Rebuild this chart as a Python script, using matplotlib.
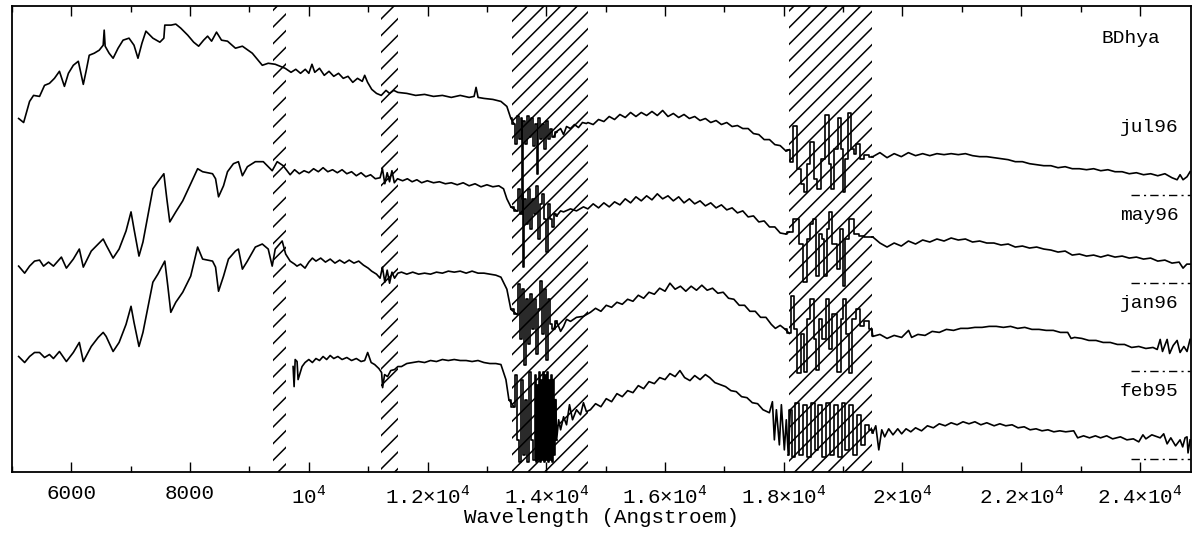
import matplotlib.pyplot as plt

plt.rcParams['font.family'] = ['Liberation Mono', 'DejaVu Sans']
plt.rcParams['mathtext.fontset'] = 'custom'
plt.rcParams['mathtext.rm'] = 'Liberation Mono'
plt.rcParams['hatch.linewidth'] = 1.1

# spectra as (wavelength [Angstroem], flux above the zero line of each spectrum)
jul96 = [(5112, 76), (5196, 72), (5296, 93), (5363, 99), (5464, 98), (5548, 109), (5631, 111),
         (5715, 116), (5799, 123), (5883, 108), (5950, 121), (6033, 129), (6117, 133), (6201, 110),
         (6251, 124), (6301, 139), (6385, 141), (6469, 144), (6536, 149), (6553, 164), (6569, 148),
         (6636, 141), (6703, 136), (6787, 146), (6871, 154), (6971, 156), (7055, 149), (7122, 136),
         (7189, 151), (7256, 163), (7373, 156), (7491, 152), (7558, 156), (7574, 169), (7680, 169),
         (7759, 170), (7842, 166), (7960, 159), (8060, 152), (8144, 148), (8228, 154), (8295, 158),
         (8362, 153), (8445, 162), (8529, 154), (8630, 153), (8764, 146), (8881, 148), (9048, 141),
         (9216, 129), (9316, 131), (9434, 130), (9601, 126),
         (9700, 122), (9780, 125), (9860, 121), (9940, 125), (10000, 121), (10053, 130), (10100, 122),
         (10180, 126), (10260, 119), (10340, 123), (10420, 118), (10500, 121), (10580, 116),
         (10660, 118), (10740, 112), (10820, 116), (10900, 113), (10941, 119), (10990, 112),
         (11060, 105), (11140, 101), (11220, 99), (11300, 104), (11360, 101), (11430, 104),
         (11500, 102), (11650, 101), (11800, 99), (11950, 100), (12100, 98), (12250, 99), (12400, 97),
         (12550, 99), (12700, 97), (12784, 98), (12817, 107), (12851, 97), (12950, 96), (13100, 95),
         (13236, 93), (13336, 88), (13403, 76),
         (13454, 71), (13487, 51), (13521, 78), (13554, 56), (13588, 76), (13605, -4), (13621, 74),
         (13655, 51), (13688, 78), (13722, 58), (13755, 76), (13789, 49), (13822, 71), (13856, 21),
         (13873, 76), (13906, 56), (13940, 71), (13973, 46), (14007, 74), (14040, 56), (14074, 66),
         (14124, 58), (14174, 63), (14241, 66), (14291, 60), (14341, 68), (14408, 66), (14475, 70),
         (14542, 67), (14609, 72), (14676, 71),
         (14700, 72), (14790, 70), (14880, 75), (14970, 73), (15060, 78), (15150, 75), (15240, 80),
         (15330, 77), (15420, 82), (15510, 78), (15600, 82), (15690, 79), (15780, 83), (15870, 79),
         (15960, 84), (16050, 78), (16140, 81), (16230, 77), (16320, 80), (16410, 76), (16500, 78),
         (16590, 74), (16680, 76), (16770, 72), (16860, 74), (16950, 70), (17040, 72), (17130, 68),
         (17220, 69), (17310, 66), (17400, 66), (17490, 61), (17580, 60), (17670, 55), (17760, 55),
         (17850, 50), (17940, 49), (18030, 44), (18093, 45),
         (18110, 33), (18194, 69), (18261, 26), (18311, 11), (18361, 3), (18412, 31), (18479, 53),
         (18529, 16), (18596, 6), (18646, 36), (18730, 79), (18780, 31), (18814, 6), (18881, 46),
         (18948, 76), (18981, 46), (19015, 3), (19065, 36), (19115, 81), (19166, 46), (19199, 41),
         (19250, 51), (19316, 36), (19400, 40), (19484, 38),
         (19500, 38), (19620, 42), (19740, 37), (19860, 41), (19980, 38), (20100, 42), (20220, 39),
         (20340, 41), (20460, 39), (20580, 41), (20700, 40), (20820, 41), (20940, 40), (21060, 41),
         (21180, 39), (21300, 38), (21420, 38), (21540, 37), (21660, 36), (21780, 35), (21900, 33),
         (22020, 33), (22140, 31), (22260, 30), (22380, 29), (22500, 29), (22620, 27), (22740, 28),
         (22860, 26), (22980, 26), (23100, 25), (23220, 26), (23340, 24), (23460, 25), (23580, 23),
         (23700, 23), (23820, 21), (23940, 22), (24060, 20), (24180, 21), (24300, 19), (24420, 21),
         (24540, 17), (24626, 15), (24676, 20), (24726, 15), (24793, 18), (24844, 23)]

may96 = [(5112, 17), (5213, 10), (5296, 17), (5380, 22), (5464, 23), (5531, 17), (5615, 21),
         (5698, 17), (5832, 26), (5916, 15), (6033, 24), (6134, 34), (6201, 16), (6335, 32),
         (6452, 39), (6536, 44), (6586, 38), (6703, 25), (6804, 34), (6921, 52), (7005, 71),
         (7055, 54), (7139, 27), (7206, 41), (7373, 94), (7457, 101), (7558, 109), (7608, 84),
         (7658, 61), (7759, 71), (7876, 82), (8010, 99), (8127, 114), (8211, 111), (8378, 109),
         (8429, 104), (8479, 86), (8563, 97), (8630, 111), (8730, 119), (8814, 121), (8881, 107),
         (8965, 116), (9099, 121), (9233, 121), (9383, 112), (9467, 121), (9568, 117),
         (9620, 113), (9685, 108), (9760, 113), (9840, 109), (9920, 112), (10000, 110), (10080, 114),
         (10160, 111), (10240, 115), (10320, 111), (10400, 113), (10480, 110), (10560, 113),
         (10640, 109), (10720, 111), (10800, 107), (10880, 110), (10960, 106), (11040, 108),
         (11120, 104), (11200, 105), (11240, 114), (11280, 99), (11320, 110), (11360, 101),
         (11400, 112), (11440, 100), (11494, 104), (11580, 102), (11660, 104), (11740, 101),
         (11820, 103), (11900, 100), (11996, 102), (12100, 100), (12200, 101), (12300, 99),
         (12400, 100), (12500, 98), (12600, 100), (12700, 97), (12800, 99), (12900, 96), (13000, 98),
         (13100, 96), (13200, 97), (13280, 94), (13336, 84), (13403, 76),
         (13504, 72), (13537, 94), (13571, 69), (13605, 89), (13621, 16), (13638, 84), (13671, 59),
         (13705, 94), (13739, 54), (13772, 84), (13806, 69), (13839, 97), (13873, 44), (13906, 79),
         (13940, 89), (13973, 64), (14007, 31), (14040, 79), (14074, 64), (14107, 56), (14141, 69),
         (14174, 67), (14241, 72), (14291, 71), (14408, 74), (14509, 72), (14626, 76),
         (14700, 74), (14790, 79), (14880, 75), (14970, 80), (15060, 76), (15150, 81), (15240, 78),
         (15330, 84), (15420, 80), (15510, 86), (15600, 82), (15690, 87), (15780, 83), (15870, 89),
         (15960, 84), (16050, 87), (16140, 82), (16230, 86), (16320, 80), (16410, 84), (16500, 79),
         (16590, 82), (16680, 77), (16770, 80), (16860, 75), (16950, 78), (17040, 73), (17130, 75),
         (17220, 70), (17310, 72), (17400, 66), (17490, 67), (17580, 61), (17670, 62), (17760, 56),
         (17850, 56), (17940, 50), (18030, 49), (18093, 51),
         (18227, 64), (18294, 39), (18361, 1), (18412, 44), (18462, 59), (18512, 64), (18562, 7),
         (18613, 49), (18663, 44), (18696, 7), (18747, 54), (18780, 71), (18847, 39), (18931, 14),
         (18965, 54), (19015, -3), (19065, 44), (19149, 64), (19216, 49), (19316, 47), (19400, 46),
         (19484, 46),
         (19500, 46), (19620, 40), (19740, 36), (19860, 40), (19980, 37), (20100, 42), (20220, 39),
         (20340, 43), (20460, 41), (20580, 44), (20700, 42), (20820, 45), (20940, 43), (21060, 44),
         (21180, 41), (21300, 42), (21420, 40), (21540, 40), (21660, 38), (21780, 39), (21900, 36),
         (22020, 37), (22140, 35), (22260, 36), (22380, 34), (22500, 33), (22620, 31), (22740, 32),
         (22860, 28), (22980, 29), (23100, 27), (23220, 28), (23340, 26), (23460, 28), (23580, 26),
         (23700, 27), (23820, 25), (23940, 26), (24060, 24), (24180, 25), (24300, 22), (24420, 23),
         (24540, 20), (24660, 21), (24726, 15), (24790, 19), (24844, 19)]

jan96 = [(5112, 14), (5213, 8), (5296, 14), (5380, 18), (5464, 18), (5548, 13), (5631, 16),
         (5698, 12), (5799, 19), (5916, 9), (6033, 18), (6134, 28), (6201, 9), (6335, 24),
         (6452, 33), (6536, 38), (6586, 34), (6703, 19), (6804, 28), (6921, 46), (7005, 64),
         (7055, 48), (7139, 24), (7206, 38), (7373, 88), (7457, 96), (7574, 109), (7625, 84),
         (7675, 58), (7759, 68), (7876, 78), (8010, 94), (8127, 123), (8211, 111), (8378, 109),
         (8429, 103), (8479, 79), (8563, 94), (8646, 111), (8764, 119), (8814, 121), (8881, 101),
         (8965, 109), (9099, 123), (9216, 126), (9316, 121), (9383, 104), (9434, 121), (9551, 129),
         (9610, 116), (9685, 109), (9760, 106), (9800, 104), (9860, 106), (9936, 102), (10000, 108),
         (10060, 112), (10120, 109), (10200, 112), (10280, 108), (10360, 111), (10440, 107),
         (10520, 110), (10600, 107), (10680, 110), (10760, 107), (10840, 109), (10920, 105),
         (11000, 102), (11058, 99), (11140, 96), (11200, 92), (11240, 103), (11280, 88), (11320, 100),
         (11360, 87), (11400, 98), (11444, 92), (11500, 97), (11561, 98), (11650, 96), (11750, 98),
         (11850, 96), (11950, 97), (12050, 96), (12150, 98), (12250, 97), (12350, 99), (12450, 98),
         (12550, 99), (12650, 97), (12750, 99), (12850, 97), (12950, 97), (13050, 96), (13150, 95),
         (13236, 93), (13336, 81), (13403, 61),
         (13504, 56), (13537, 86), (13571, 31), (13605, 81), (13638, 6), (13671, 71), (13705, 26),
         (13739, 76), (13772, 41), (13806, 71), (13839, 16), (13873, 61), (13906, 89), (13940, 36),
         (13973, 81), (14007, 11), (14040, 71), (14074, 46), (14124, 41), (14174, 49), (14241, 39),
         (14291, 44), (14341, 51), (14408, 49), (14509, 53), (14626, 54),
         (14743, 58), (14830, 62), (14920, 59), (15010, 65), (15100, 63), (15190, 68), (15280, 66),
         (15370, 71), (15460, 69), (15550, 75), (15640, 72), (15730, 78), (15820, 76), (15910, 82),
         (16000, 79), (16083, 87), (16170, 81), (16260, 84), (16350, 79), (16440, 84), (16530, 80),
         (16620, 85), (16710, 80), (16800, 82), (16890, 77), (16980, 78), (17070, 72), (17160, 71),
         (17250, 65), (17340, 65), (17430, 59), (17520, 59), (17610, 53), (17700, 53), (17790, 46),
         (17859, 42), (17940, 45), (18026, 41), (18093, 37),
         (18144, 74), (18194, 41), (18261, -2), (18311, 36), (18361, -1), (18412, 51), (18479, 71),
         (18529, 31), (18562, 1), (18613, 51), (18680, 31), (18730, 71), (18780, 21), (18847, 56),
         (18931, -1), (18981, 51), (19015, 71), (19082, 36), (19132, -2), (19182, 51), (19250, 61),
         (19316, 44), (19400, 49), (19484, 41),
         (19500, 34), (19620, 36), (19740, 32), (19860, 35), (19986, 33), (20103, 40), (20154, 33),
         (20260, 36), (20380, 35), (20500, 39), (20620, 38), (20740, 41), (20860, 40), (20980, 42),
         (21100, 42), (21220, 43), (21340, 43), (21460, 44), (21580, 44), (21700, 43), (21820, 44),
         (21940, 42), (22060, 43), (22180, 41), (22300, 41), (22420, 40), (22540, 40), (22660, 38),
         (22783, 38), (22840, 32), (22900, 33), (23020, 32), (23140, 30), (23260, 30), (23380, 28),
         (23500, 28), (23620, 26), (23740, 26), (23860, 23), (23980, 24), (24100, 22), (24220, 23),
         (24291, 21), (24341, 31), (24380, 19), (24458, 31), (24500, 17), (24560, 25), (24626, 30),
         (24676, 18), (24740, 24), (24793, 19), (24844, 31)]

feb95 = [(9735, 92), (9752, 72), (9770, 99), (9802, 97), (9819, 79), (9886, 92), (9936, 96),
         (10000, 99), (10060, 96), (10120, 100), (10180, 98), (10240, 102), (10300, 99), (10360, 103),
         (10420, 100), (10489, 102), (10560, 99), (10640, 101), (10720, 98), (10800, 100), (10880, 97),
         (10941, 98), (10991, 106), (11050, 96), (11109, 94), (11180, 90), (11226, 86), (11243, 71),
         (11276, 84), (11326, 82), (11380, 88), (11444, 89), (11500, 92), (11561, 92), (11650, 95),
         (11750, 96), (11850, 97), (11950, 96), (12050, 98), (12150, 97), (12250, 99), (12350, 98),
         (12449, 99), (12550, 98), (12650, 98), (12750, 97), (12850, 98), (12950, 96), (13050, 95),
         (13150, 95), (13236, 94), (13320, 79), (13370, 59), (13454, 52),
         (13487, 84), (13521, 19), (13554, -3), (13588, 79), (13621, 4), (13655, 59), (13688, -3),
         (13722, 87), (13755, 19), (13789, -1), (13822, 84), (13839, -3), (13856, 74), (13873, -1),
         (13889, 87), (13906, -3), (13923, 79), (13940, -1), (13956, 87), (13973, -3), (13990, 84),
         (14007, -1), (14024, 87), (14040, -3), (14057, 79), (14074, -1), (14091, 84), (14107, -3),
         (14124, 79), (14141, 4), (14158, 59), (14174, 19), (14208, 39), (14241, 29), (14291, 42),
         (14341, 34), (14391, 54), (14442, 39), (14509, 49), (14576, 44), (14626, 56), (14676, 47),
         (14743, 49), (14830, 55), (14920, 52), (15010, 60), (15100, 57), (15190, 65), (15280, 62),
         (15370, 68), (15460, 66), (15550, 73), (15640, 70), (15730, 77), (15820, 75), (15910, 81),
         (16000, 79), (16083, 85), (16170, 82), (16251, 88), (16330, 81), (16420, 78), (16500, 83),
         (16590, 79), (16680, 84), (16753, 81), (16840, 76), (16930, 74), (17020, 72), (17110, 68),
         (17200, 67), (17290, 62), (17380, 61), (17470, 56), (17560, 55), (17650, 49), (17758, 46),
         (17809, 57), (17842, 19), (17876, 49), (17926, 14), (17960, 54), (18010, 9), (18043, 39),
         (18076, 4), (18110, 49), (18160, 2), (18230, 56), (18290, 4), (18360, 54), (18420, 2),
         (18490, 56), (18550, 9), (18620, 54), (18680, 2), (18750, 56), (18810, 4), (18880, 54),
         (18940, 2), (19010, 56), (19070, 9), (19140, 54), (19200, 4), (19270, 44), (19330, 14),
         (19400, 34), (19484, 29),
         (19500, 26), (19550, 33), (19601, 9), (19651, 29), (19700, 22), (19768, 30), (19840, 24),
         (19920, 30), (19986, 25), (20060, 30), (20140, 27), (20220, 31), (20321, 28), (20420, 33),
         (20520, 31), (20620, 35), (20720, 33), (20820, 36), (20920, 34), (21020, 37), (21120, 35),
         (21220, 37), (21320, 34), (21420, 36), (21544, 33), (21640, 35), (21740, 33), (21846, 34),
         (21946, 31), (22050, 32), (22150, 29), (22250, 30), (22350, 28), (22450, 29), (22549, 27),
         (22650, 28), (22750, 27), (22884, 28), (22951, 21), (23050, 23), (23150, 21), (23250, 23),
         (23336, 21), (23440, 23), (23540, 20), (23671, 22), (23780, 19), (23889, 20), (23980, 17),
         (24050, 24), (24100, 20), (24200, 24), (24341, 21), (24400, 25), (24458, 15), (24520, 21),
         (24600, 13), (24676, 19), (24720, 12), (24760, 21), (24793, 22), (24810, 6), (24844, 19)]

spectra_labels = ['jul96', 'may96', 'jan96', 'feb95']
offsets = [263, 175, 88, 0]
star_name = 'BDhya'

# telluric absorption windows (hatched)
bands = [(9400, 9610), (11210, 11510), (13420, 14700), (18090, 19490)]
# parts of the strongest windows drawn as histogram steps
step_windows = [(13420, 14160), (18090, 19490)]

major_ticks = [6000, 8000, 10000, 12000, 14000, 16000, 18000, 20000, 22000, 24000]
tick_labels = ['6000', '8000', '10$^4$', '1.2×10$^4$', '1.4×10$^4$', '1.6×10$^4$',
               '1.8×10$^4$', '2×10$^4$', '2.2×10$^4$', '2.4×10$^4$']


def in_steps(w):
    return any(lo <= w <= hi for lo, hi in step_windows)


fig = plt.figure(figsize=(12, 5.38), dpi=100)
ax = fig.add_axes([0.01, 0.1227, 0.9825, 0.8661])

for lo, hi in bands:
    ax.axvspan(lo, hi, facecolor='none', edgecolor='black', hatch='//', linewidth=0, zorder=1)

for spec, off, lab in zip([jul96, may96, jan96, feb95], offsets, spectra_labels):
    wl = [p[0] for p in spec]
    fl = [p[1] + off for p in spec]
    runs = []
    for i, w in enumerate(wl):
        flag = in_steps(w)
        if runs and runs[-1][0] == flag:
            runs[-1][2] = i
        else:
            runs.append([flag, i, i])
    for flag, i0, i1 in runs:
        a, b = max(i0 - 1, 0), min(i1 + 1, len(wl) - 1)
        ax.plot(wl[a:b + 1], fl[a:b + 1], color='black', lw=1.2, zorder=3,
                drawstyle='steps-mid' if flag else 'default')
    # zero level of each spectrum
    ax.plot([23850, 24850], [off, off], color='black', lw=1.0, linestyle=(0, (6, 3, 1.5, 3)), zorder=3)
    ax.text(24650, off + 67, lab, ha='right', va='center', fontsize=14)

ax.text(0.974, 0.93, star_name, transform=ax.transAxes, ha='right', va='center', fontsize=14)

ax.set_xlim(5112, 24860)
ax.set_ylim(-13, 451)
ax.set_xticks(major_ticks)
ax.set_xticklabels(tick_labels, fontsize=15)
ax.set_xticks(range(5000, 25000, 1000), minor=True)
ax.set_yticks([])
ax.tick_params(axis='x', which='both', direction='in', top=True, bottom=True, pad=9)
ax.tick_params(axis='x', which='major', length=7, width=1)
ax.tick_params(axis='x', which='minor', length=4, width=1)
for s in ax.spines.values():
    s.set_linewidth(1.3)
ax.set_xlabel('Wavelength (Angstroem)', fontsize=15, labelpad=0)

fig.savefig('out.png', dpi=100)
